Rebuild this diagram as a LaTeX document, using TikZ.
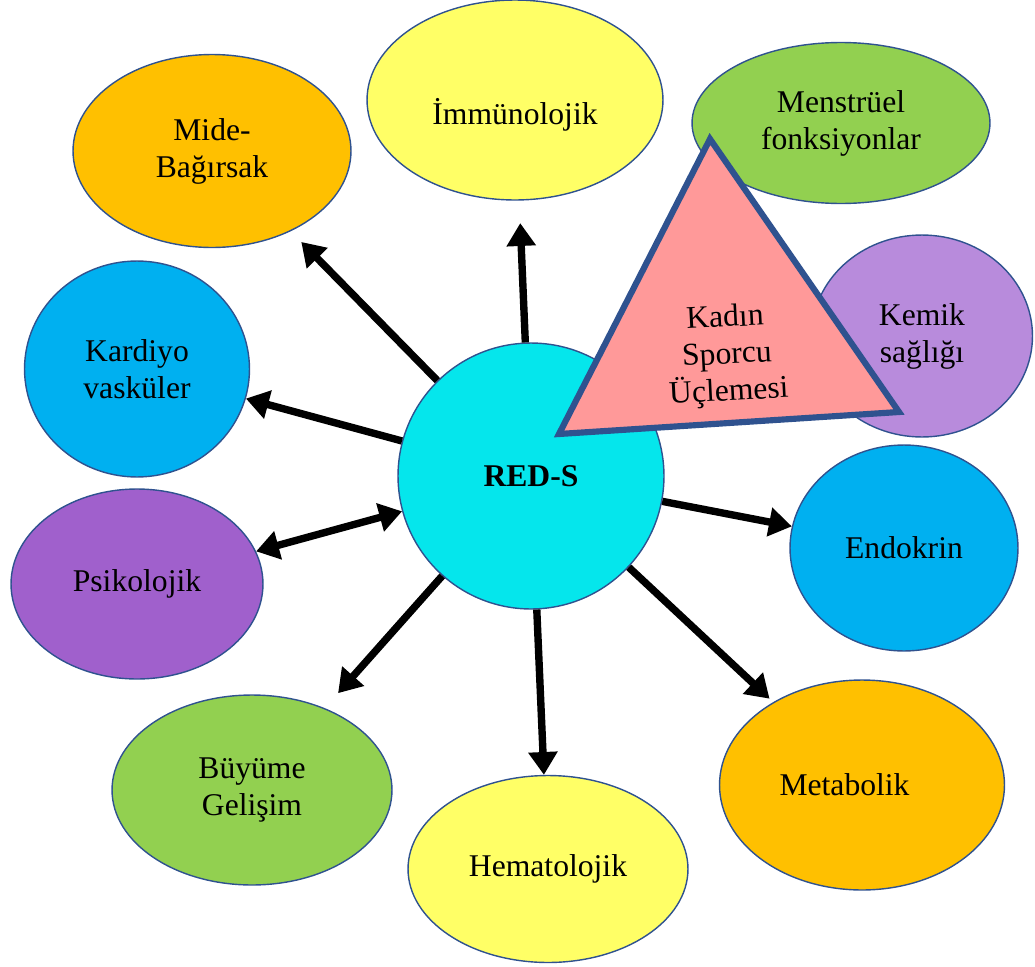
\documentclass[tikz,border=0pt]{standalone}
\usepackage{fontspec}
\setmainfont{Liberation Serif}
\usepackage{tikz}
\usetikzlibrary{shapes,arrows.meta,positioning,calc}
\usepackage{xcolor}
\definecolor{edgeblue}{HTML}{2F528F}
\definecolor{bubbleorange}{HTML}{FFC000}
\definecolor{bubbleyellow}{HTML}{FFFF66}
\definecolor{bubblegreen}{HTML}{92D050}
\definecolor{bubblelilac}{HTML}{B88BDC}
\definecolor{bubbleblue}{HTML}{00B0F0}
\definecolor{bubblepurple}{HTML}{A060CC}
\definecolor{centercyan}{HTML}{05E6EC}
\definecolor{trianglepink}{HTML}{FF9999}

\begin{document}
\begin{tikzpicture}[
    x=0.02cm, y=-0.02cm,
    bubble/.style={ellipse, draw=edgeblue, line width=0.8pt, inner sep=0pt, align=center, font=\fontsize{18}{21}\selectfont},
    arr/.style={line width=4.2pt, -{Triangle[width=16pt,length=13pt]}},
    dblarr/.style={line width=4.2pt, {Triangle[width=16pt,length=13pt]}-{Triangle[width=16pt,length=13pt]}}
]
    \useasboundingbox (0,0) rectangle (1035,967);

    % outer bubbles
    \node[bubble, fill=bubbleorange, minimum width=5.56cm, minimum height=3.86cm] (mide) at (212,151) {Mide-\\Bağırsak};
    \node[bubble, fill=bubbleyellow, minimum width=5.92cm, minimum height=4.0cm] (immun) at (515,100) {\raisebox{-0.22cm}[\height][0pt]{İmmünolojik}};
    \node[bubble, fill=bubblegreen, minimum width=5.96cm, minimum height=3.22cm] (mens) at (841,123) {Menstrüel\\fonksiyonlar};
    \node[bubble, fill=bubblelilac, minimum width=4.42cm, minimum height=4.04cm] (kemik) at (922,336) {Kemik\\sağlığı};
    \node[bubble, fill=bubbleblue, minimum width=4.5cm, minimum height=4.32cm] (kardiyo) at (137,369) {Kardiyo\\vasküler};
    \node[bubble, fill=bubbleblue, minimum width=4.56cm, minimum height=4.12cm] (endo) at (904,548) {Endokrin};
    \node[bubble, fill=bubblepurple, minimum width=5.04cm, minimum height=3.8cm] (psiko) at (137,584) {Psikolojik};
    \node[bubble, fill=bubblegreen, minimum width=5.6cm, minimum height=3.8cm] (buyume) at (252,790) {Büyüme\\Gelişim};
    \node[bubble, fill=bubbleyellow, minimum width=5.6cm, minimum height=3.74cm] (hema) at (548,869) {Hematolojik};
    \node[bubble, fill=bubbleorange, minimum width=5.7cm, minimum height=4.2cm] (meta) at (862,785) {\hspace*{-0.7cm}Metabolik};

    % center
    \node[bubble, circle, fill=centercyan, minimum size=5.32cm, font=\fontsize{18}{21}\selectfont\bfseries] (reds) at (531,476) {RED-S};

    % arrows
    \draw[arr, shorten >=0.3cm] (reds) -- (mide);
    \draw[arr, shorten >=0.45cm] (reds) -- (immun);
    \draw[arr] (reds) -- (kardiyo);
    \draw[dblarr] (reds) -- (psiko);
    \draw[arr, shorten >=0.4cm] (reds) -- (buyume);
    \draw[arr] (reds) -- (hema);
    \draw[arr, shorten >=0.1cm] (reds) -- (meta);
    \draw[arr] (reds) -- (endo);

    % triad
    \draw[draw=edgeblue, line width=3.5pt, fill=trianglepink, line join=miter] (710,139) -- (559,434) -- (899,412) -- cycle;
    \node[align=center, rotate=3, font=\fontsize{18}{21}\selectfont] (triad) at (727,356) {Kadın\\Sporcu\\Üçlemesi};
\end{tikzpicture}
\end{document}
